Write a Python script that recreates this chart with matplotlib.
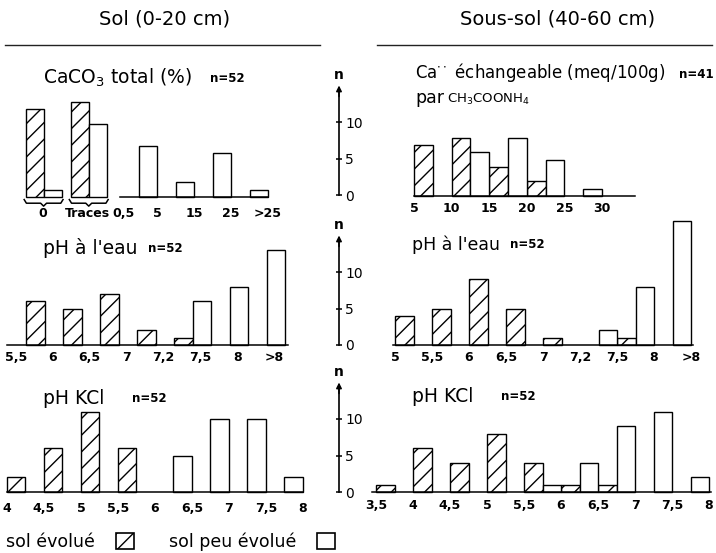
import matplotlib
matplotlib.use("Agg")
import matplotlib.pyplot as plt
from matplotlib.patches import Rectangle
from matplotlib.lines import Line2D
import matplotlib.transforms as mtransforms
import numpy as np

plt.rcParams['font.family'] = ['DejaVu Sans']
plt.rcParams['mathtext.fontset'] = 'dejavusans'
plt.rcParams['hatch.linewidth'] = 1.0

# ---------------- data ----------------
caco3_groups = ["0", "Traces"]
caco3_group_evolue = [12, 13]
caco3_group_peu = [1, 10]
caco3_labels = ["0,5", "5", "15", "25", ">25"]
caco3_evolue = [0, 0, 0, 0]
caco3_peu = [7, 2, 6, 1]

phe_sol_labels = ["5,5", "6", "6,5", "7", "7,2", "7,5", "8", ">8"]
phe_sol_evolue = [6, 5, 7, 2, 1, 0, 0]
phe_sol_peu = [0, 0, 0, 0, 6, 8, 13]

kcl_sol_labels = ["4", "4,5", "5", "5,5", "6", "6,5", "7", "7,5", "8"]
kcl_sol_evolue = [2, 6, 11, 6, 0, 0, 0, 0]
kcl_sol_peu = [0, 0, 0, 0, 5, 10, 10, 2]

ca_labels = ["5", "10", "15", "20", "25", "30"]
ca_evolue = [7, 8, 4, 2, 0]
ca_peu = [0, 6, 8, 5, 1]

phe_ss_labels = ["5", "5,5", "6", "6,5", "7", "7,2", "7,5", "8", ">8"]
phe_ss_evolue = [4, 5, 9, 5, 1, 0, 1, 0]
phe_ss_peu = [0, 0, 0, 0, 0, 2, 8, 17]

kcl_ss_labels = ["3,5", "4", "4,5", "5", "5,5", "6", "6,5", "7", "7,5", "8"]
kcl_ss_evolue = [1, 6, 4, 8, 4, 1, 1, 0, 0]
kcl_ss_peu = [0, 0, 0, 0, 1, 4, 9, 11, 2]

scale_ticks = [0, 5, 10]
legend_labels = ["sol évolué", "sol peu évolué"]

# ---------------- layout ----------------
W, H, DPI = 716, 553, 100
PPU = 7.3  # pixels per count
fig = plt.figure(figsize=(W / DPI, H / DPI), dpi=DPI)
fig.patch.set_facecolor('white')

TITLE_FS = 13.5
TICK_FS = 9


def fx(x):
    return x / W


def fy(y):
    return 1 - y / H


def panel(x0, cw, baseline, xa, xb, ax_lo, ax_hi, ymax=18):
    ax = fig.add_axes([fx(xa), fy(baseline), (xb - xa) / W, ymax * PPU / H])
    ax.set_xlim((xa - x0) / cw, (xb - x0) / cw)
    ax.set_ylim(0, ymax)
    ax.patch.set_visible(False)
    for s in ['top', 'left', 'right']:
        ax.spines[s].set_visible(False)
    ax.spines['bottom'].set_bounds(ax_lo, ax_hi)
    ax.spines['bottom'].set_linewidth(1.1)
    ax.set_yticks([])
    return ax


def draw_classes(ax, evolue, peu, offset=0.0):
    ev = np.asarray(evolue)
    pe = np.asarray(peu)
    idx = np.arange(len(ev)) + offset
    m = ev > 0
    ax.bar(idx[m], ev[m], width=0.5, align='edge', facecolor='white',
           edgecolor='black', hatch='//', linewidth=1.0, clip_on=False)
    m = pe > 0
    ax.bar(idx[m] + 0.5, pe[m], width=0.5, align='edge', facecolor='white',
           edgecolor='black', linewidth=1.0, clip_on=False)


def set_labels(ax, labels, pad, shift=0.0, positions=None):
    pos = np.arange(len(labels)) + shift if positions is None else positions
    ax.set_xticks(pos)
    ax.set_xticklabels(labels, fontsize=TICK_FS, fontweight='bold')
    ax.tick_params(axis='x', length=0, pad=pad)


# --- CaCO3 (sol) ---
ax = panel(120, 37, 197, 15, 275, 0, 4)
grp_pos = np.array([-2.54, -1.32])
gev = np.asarray(caco3_group_evolue)
gpe = np.asarray(caco3_group_peu)
ax.bar(grp_pos, gev, width=0.48, align='edge', facecolor='white',
       edgecolor='black', hatch='//', linewidth=1.0, clip_on=False)
ax.bar(grp_pos + 0.48, gpe, width=0.5, align='edge', facecolor='white',
       edgecolor='black', linewidth=1.0, clip_on=False)
draw_classes(ax, caco3_evolue, caco3_peu)
tick_pos = list(grp_pos + 0.45) + [0.1] + list(range(1, len(caco3_labels)))
set_labels(ax, caco3_groups + caco3_labels, pad=7, positions=tick_pos)
# braces under the two groups
for gp in grp_pos:
    xl, xr = gp - 0.05, gp + 1.0
    xc = (xl + xr) / 2
    bx = [xl, xl + 0.06, xc - 0.08, xc, xc + 0.08, xr - 0.06, xr]
    by = [-0.35, -0.85, -0.85, -1.25, -0.85, -0.85, -0.35]
    ax.plot(bx, by, color='black', lw=1.1, clip_on=False)

# --- pH eau (sol) ---
ax = panel(26, 37, 345, 3, 295, -0.51, 7.08)
draw_classes(ax, phe_sol_evolue, phe_sol_peu)
set_labels(ax, phe_sol_labels, pad=4, shift=-0.28)

# --- pH KCl (sol) ---
ax = panel(7, 37, 492, 0, 312, 0, 8)
draw_classes(ax, kcl_sol_evolue, kcl_sol_peu)
set_labels(ax, kcl_sol_labels, pad=7)

# --- Ca echangeable (sous-sol) ---
ax = panel(414, 37.6, 196, 400, 640, 0, 5.88)
draw_classes(ax, ca_evolue, ca_peu)
set_labels(ax, ca_labels, pad=4)

# --- pH eau (sous-sol) ---
ax = panel(395, 37, 345, 385, 700, -0.05, 8.05)
draw_classes(ax, phe_ss_evolue, phe_ss_peu)
set_labels(ax, phe_ss_labels, pad=4)

# --- pH KCl (sous-sol) ---
ax = panel(376, 37, 492, 365, 716, -0.1, 9.05)
draw_classes(ax, kcl_ss_evolue, kcl_ss_peu)
set_labels(ax, kcl_ss_labels, pad=5)

# --- n scale bars ---
for base in [195, 345, 492]:
    sax = fig.add_axes([fx(325), fy(base), 14 / W, 18 * PPU / H])
    sax.set_ylim(0, 18)
    sax.set_xlim(0, 1)
    sax.patch.set_visible(False)
    for s in ['top', 'left', 'bottom']:
        sax.spines[s].set_visible(False)
    sax.spines['right'].set_bounds(0, 14.2)
    sax.spines['right'].set_linewidth(1.2)
    sax.set_xticks([])
    sax.yaxis.tick_right()
    sax.set_yticks(scale_ticks)
    sax.set_yticklabels([str(t) for t in scale_ticks], fontsize=10)
    sax.tick_params(axis='y', direction='inout', length=5, width=1.1, pad=2)
    tr = mtransforms.blended_transform_factory(sax.transAxes, sax.transData)
    sax.annotate('', xy=(1, 15.0), xytext=(1, 13.5), xycoords=tr, textcoords=tr,
                 arrowprops=dict(arrowstyle='-|>', lw=1.1, color='black',
                                 mutation_scale=8, shrinkA=0, shrinkB=0))
    sax.text(1, 16.4, 'n', transform=tr, ha='center', va='center',
             fontsize=10, fontweight='bold')

# --- headers ---
fig.text(fx(165), fy(19), 'Sol (0-20 cm)', fontsize=14, ha='center', va='center')
fig.text(fx(558), fy(19), 'Sous-sol (40-60 cm)', fontsize=14, ha='center', va='center')
fig.add_artist(Line2D([fx(5), fx(320)], [fy(45), fy(45)], color='#222222', lw=1.0,
                      transform=fig.transFigure))
fig.add_artist(Line2D([fx(377), fx(712)], [fy(45), fy(45)], color='#222222', lw=1.0,
                      transform=fig.transFigure))

# --- panel titles ---
fig.text(fx(43), fy(78), 'CaCO$_3$ total (%)', fontsize=TITLE_FS, va='center')
fig.text(fx(210), fy(78), 'n=52', fontsize=8.5, fontweight='bold', va='center')
fig.text(fx(43), fy(248), "pH à l'eau", fontsize=TITLE_FS, va='center')
fig.text(fx(148), fy(248), 'n=52', fontsize=8.5, fontweight='bold', va='center')
fig.text(fx(43), fy(398), 'pH KCl', fontsize=TITLE_FS, va='center')
fig.text(fx(132), fy(398), 'n=52', fontsize=8.5, fontweight='bold', va='center')

fig.text(fx(415), fy(73), r'Ca$^{\cdot\cdot}$ échangeable (meq/100g)', fontsize=12, va='center')
fig.text(fx(679), fy(74), 'n=41', fontsize=8.5, fontweight='bold', va='center')
fig.text(fx(415), fy(98), 'par', fontsize=12.5, va='center')
fig.text(fx(447), fy(99), 'CH$_3$COONH$_4$', fontsize=9.5, va='center')
fig.text(fx(412), fy(245), "pH à l'eau", fontsize=12.5, va='center')
fig.text(fx(510), fy(245), 'n=52', fontsize=8.5, fontweight='bold', va='center')
fig.text(fx(412), fy(397), 'pH KCl', fontsize=TITLE_FS, va='center')
fig.text(fx(501), fy(397), 'n=52', fontsize=8.5, fontweight='bold', va='center')

# --- legend ---
handles = [Rectangle((0, 0), 1, 1, facecolor='white', edgecolor='black', hatch='//', lw=1.2),
           Rectangle((0, 0), 1, 1, facecolor='white', edgecolor='black', lw=1.2)]
fig.legend(handles, legend_labels, loc='center left', bbox_to_anchor=(fx(6), fy(542)),
           ncol=2, frameon=False, markerfirst=False, fontsize=12.5,
           handlelength=1.05, handleheight=1.05, handletextpad=1.2,
           columnspacing=2.0, borderaxespad=0, borderpad=0)

fig.savefig('out.png', dpi=DPI, facecolor='white')
